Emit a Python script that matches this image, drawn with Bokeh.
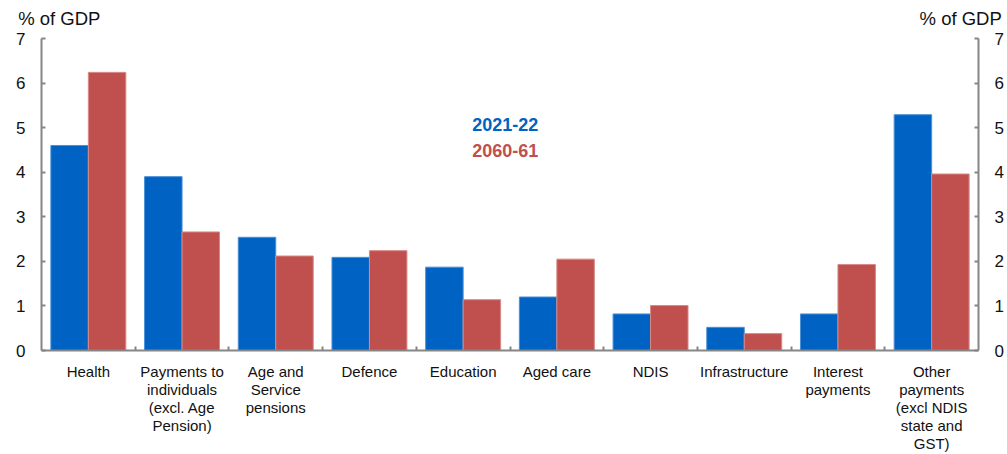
from bokeh.plotting import figure
from bokeh.models import Range1d, LinearAxis, FixedTicker, Label, ColumnDataSource
from bokeh.transform import dodge
from bokeh.embed import file_html
from bokeh.resources import INLINE

categories = [
    "Health",
    "Payments to\nindividuals\n(excl. Age\nPension)",
    "Age and\nService\npensions",
    "Defence",
    "Education",
    "Aged care",
    "NDIS",
    "Infrastructure",
    "Interest\npayments",
    "Other\npayments\n(excl NDIS\nstate and\nGST)",
]
v2021_22 = [4.60, 3.90, 2.54, 2.09, 1.87, 1.20, 0.82, 0.52, 0.82, 5.29]
v2060_61 = [6.24, 2.66, 2.12, 2.24, 1.14, 2.05, 1.01, 0.38, 1.93, 3.96]
series_names = ["2021-22", "2060-61"]
y_ticks = [0, 1, 2, 3, 4, 5, 6, 7]
unit_label = "% of GDP"

BLUE = "#0062C3"
RED = "#C0504D"
AXIS = "#868686"
FONT = "Liberation Sans"

pos = list(range(len(categories)))
src = ColumnDataSource(dict(x=pos, a=v2021_22, b=v2060_61))

p = figure(width=1007, height=454, output_backend="svg", toolbar_location=None,
           x_range=Range1d(-0.5, len(categories) - 0.5), y_range=Range1d(0, 7),
           min_border_left=41, min_border_right=29, min_border_top=38, min_border_bottom=104)
p.xgrid.visible = False
p.ygrid.visible = False
p.outline_line_color = None

p.vbar(x=dodge("x", -0.2, range=p.x_range), top="a", width=0.4, source=src,
       fill_color=BLUE, line_color="#4B8FD6", line_width=1)
p.vbar(x=dodge("x", 0.2, range=p.x_range), top="b", width=0.4, source=src,
       fill_color=RED, line_color="#D88A88", line_width=1)

# x axis
xa = p.xaxis[0]
xa.ticker = FixedTicker(ticks=pos, minor_ticks=[i + 0.5 for i in pos[:-1]])
xa.major_label_overrides = {i: c for i, c in zip(pos, categories)}
xa.major_tick_in = 0
xa.major_tick_out = 0
xa.minor_tick_in = 4
xa.minor_tick_out = 0
xa.minor_tick_line_color = AXIS
xa.minor_tick_line_width = 2
xa.axis_line_color = AXIS
xa.axis_line_width = 2
xa.major_label_standoff = 12
xa.axis_label_standoff = 0
xa.major_label_text_font = FONT
xa.major_label_text_font_size = "15px"
xa.major_label_text_color = "#111111"
xa.major_label_text_line_height = 1.06

# y axes
def style_y(ax, standoff):
    ax.ticker = FixedTicker(ticks=y_ticks)
    ax.major_tick_in = 4
    ax.major_tick_out = 0
    ax.minor_tick_line_color = None
    ax.major_tick_line_color = AXIS
    ax.major_tick_line_width = 2
    ax.axis_line_color = AXIS
    ax.axis_line_width = 2
    ax.major_label_standoff = standoff
    ax.axis_label_standoff = 0
    ax.major_label_text_font = FONT
    ax.major_label_text_font_size = "17px"
    ax.major_label_text_color = "#111111"

style_y(p.yaxis[0], 16)
ra = LinearAxis()
style_y(ra, 16)
p.add_layout(ra, "right")

# unit labels above each y axis, drawn as tick labels of a bare top axis
unit_pos = [-0.31, 9.31]
ta = LinearAxis(ticker=FixedTicker(ticks=unit_pos, minor_ticks=[]),
                major_label_overrides={unit_pos[0]: unit_label, unit_pos[1]: unit_label},
                axis_line_color=None, major_tick_line_color=None, minor_tick_line_color=None,
                major_tick_in=0, major_tick_out=0, major_label_standoff=10, axis_label_standoff=0,
                major_label_text_font=FONT, major_label_text_font_size="18.5px",
                major_label_text_color="#111111")
p.add_layout(ta, "above")

# legend as coloured text
p.add_layout(Label(x=4.45, y=5.07, text=series_names[0], text_font=FONT,
                   text_font_size="18px", text_font_style="bold", text_color=BLUE,
                   text_align="center", text_baseline="middle"))
p.add_layout(Label(x=4.45, y=4.49, text=series_names[1], text_font=FONT,
                   text_font_size="18px", text_font_style="bold", text_color=RED,
                   text_align="center", text_baseline="middle"))

open("out.html", "w").write(file_html(p, INLINE))
